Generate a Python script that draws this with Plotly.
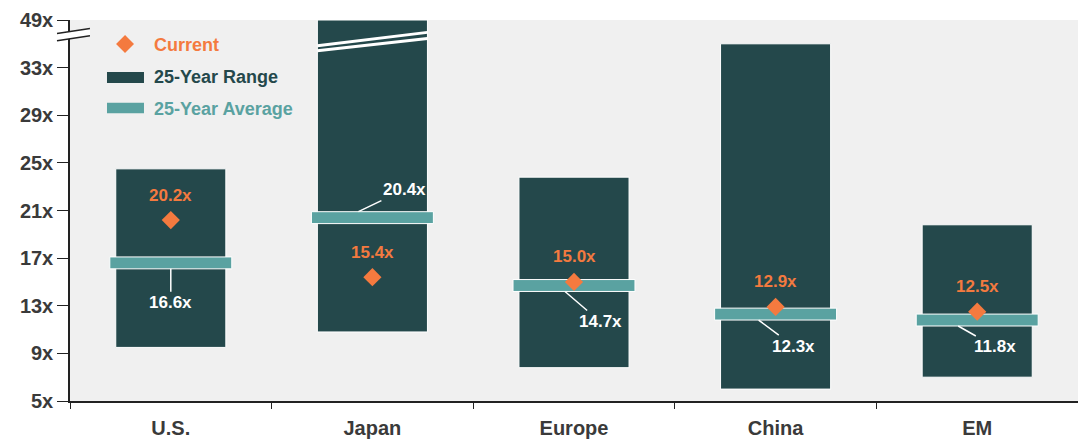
import plotly.graph_objects as go

# Forward P/E: 25-year range, 25-year average and current value by region
categories = ["U.S.", "Japan", "Europe", "China", "EM"]
range_low = [9.5, 10.8, 7.8, 6.0, 7.0]
range_high = [24.5, 49.0, 23.8, 35.0, 19.8]
average = [16.6, 20.4, 14.7, 12.3, 11.8]
current = [20.2, 15.4, 15.0, 12.9, 12.5]
tick_values = [5, 9, 13, 17, 21, 25, 29, 33, 49]
tick_labels = [f"{v}x" for v in tick_values]

DARK = "#24484b"
TEAL = "#5aa2a1"
ORANGE = "#f47a3f"
BG = "#f0f0f0"
TEXT = "#3a3a3a"
FONT = "Liberation Sans, Arial, sans-serif"

# Axis break: everything above BREAK_FROM is compressed so that 49x sits at 37
BREAK_FROM = 36
BREAK_SHIFT = 12


def axis_pos(v):
    return v if v <= BREAK_FROM else max(BREAK_FROM, v - BREAK_SHIFT)


RANGE_WIDTH = 0.546
AVG_WIDTH = 0.605
AVG_THICK = 1.0

low_pos = [axis_pos(v) for v in range_low]
high_pos = [axis_pos(v) for v in range_high]

fig = go.Figure()

fig.add_trace(go.Bar(
    x=categories,
    base=low_pos,
    y=[h - l for h, l in zip(high_pos, low_pos)],
    width=RANGE_WIDTH,
    marker=dict(color=DARK, line=dict(color="white", width=1)),
    name="25-Year Range",
    showlegend=False,
))

fig.add_trace(go.Bar(
    x=categories,
    base=[a - AVG_THICK / 2 for a in average],
    y=[AVG_THICK] * len(average),
    width=AVG_WIDTH,
    marker=dict(color=TEAL, line=dict(color="white", width=1)),
    name="25-Year Average",
    showlegend=False,
))

fig.add_trace(go.Scatter(
    x=categories,
    y=current,
    mode="markers",
    marker=dict(symbol="diamond", size=14, color=ORANGE),
    name="Current",
    showlegend=False,
))

annotations = []

# Current value labels above the diamonds
for i, c in enumerate(current):
    annotations.append(dict(
        x=i, y=axis_pos(c), xref="x", yref="y",
        text=f"{c:.1f}x", showarrow=False, yshift=25,
        font=dict(family=FONT, size=17, color=ORANGE, weight="bold"),
    ))

# Average labels with leader lines: (x offset px, bar edge, text dx, text dy)
leaders = [
    (0, "bottom", 0, 34),
    (-14, "top", 46, -22),
    (-9, "bottom", 35, 30),
    (-17, "bottom", 35, 26),
    (-19, "bottom", 37, 21),
]
CAT_PX = 1008 / len(categories)
for i, (a, (dx, edge, ax, ay)) in enumerate(zip(average, leaders)):
    y_edge = a - AVG_THICK / 2 if edge == "bottom" else a + AVG_THICK / 2
    annotations.append(dict(
        x=i + dx / CAT_PX, y=y_edge, xref="x", yref="y",
        text=f"{a:.1f}x", showarrow=True, arrowhead=0, arrowwidth=1.5,
        arrowcolor="white", ax=ax, ay=ay, standoff=0,
        font=dict(family=FONT, size=17, color="white", weight="bold"),
    ))

# Legend entries drawn in paper coordinates
legend_items = [("Current", ORANGE, 0.935), ("25-Year Range", DARK, 0.850),
                ("25-Year Average", TEAL, 0.767)]
for label, color, ly in legend_items:
    annotations.append(dict(
        x=0.0813, y=ly, xref="paper", yref="paper", xanchor="left",
        yanchor="middle", text=label, showarrow=False,
        font=dict(family=FONT, size=18, color=color, weight="bold"),
    ))

shapes = []
# Legend swatches
shapes.append(dict(
    type="path", xref="paper", yref="paper",
    path="M 0.0457,0.937 L 0.0546,0.9606 L 0.0635,0.937 L 0.0546,0.9134 Z",
    fillcolor=ORANGE, line=dict(width=0),
))
shapes.append(dict(type="rect", xref="paper", yref="paper",
                   x0=0.0367, x1=0.0734, y0=0.8346, y1=0.8635,
                   fillcolor=DARK, line=dict(width=0)))
shapes.append(dict(type="rect", xref="paper", yref="paper",
                   x0=0.0367, x1=0.0734, y0=0.755, y1=0.783,
                   fillcolor=TEAL, line=dict(width=0)))

# Break marks across the clipped Japan bar
jx0, jx1 = 1 - RANGE_WIDTH / 2, 1 + RANGE_WIDTH / 2
for y0, y1 in [(34.83, 35.96), (34.41, 35.45)]:
    shapes.append(dict(type="line", xref="x", yref="y",
                       x0=jx0, x1=jx1, y0=y0, y1=y1,
                       line=dict(color="white", width=3)))

# Break marks on the y axis
bx0, bx1 = -0.0129, 0.0198
shapes.append(dict(
    type="path", xref="paper", yref="y",
    path=f"M {bx0},35.87 L {bx1},36.29 L {bx1},35.67 L {bx0},35.25 Z",
    fillcolor="white", line=dict(width=0),
))
for y0, y1 in [(35.87, 36.29), (35.25, 35.67)]:
    shapes.append(dict(type="line", xref="paper", yref="y",
                       x0=bx0, x1=bx1, y0=y0, y1=y1,
                       line=dict(color="#222222", width=1.5)))

fig.update_layout(
    width=1078, height=441,
    margin=dict(l=70, r=0, t=20, b=40),
    paper_bgcolor="white",
    plot_bgcolor=BG,
    barmode="overlay",
    showlegend=False,
    annotations=annotations,
    shapes=shapes,
    font=dict(family=FONT),
)

fig.update_xaxes(
    type="category", range=[-0.5, len(categories) - 0.5],
    tickson="boundaries", ticks="outside", ticklen=6, tickcolor="#222222",
    showline=True, linecolor="#222222", linewidth=1.5,
    showgrid=False, zeroline=False, ticklabelstandoff=8,
    tickfont=dict(family=FONT, size=20, color=TEXT, weight="bold"),
)

fig.update_yaxes(
    range=[5, axis_pos(49)],
    tickmode="array",
    tickvals=[axis_pos(v) for v in tick_values],
    ticktext=tick_labels,
    ticks="outside", ticklen=11, tickcolor="#222222",
    showline=True, linecolor="#222222", linewidth=1.5,
    showgrid=False, zeroline=False,
    tickfont=dict(family=FONT, size=20, color=TEXT, weight="bold"),
)

fig.write_html("out.html")
